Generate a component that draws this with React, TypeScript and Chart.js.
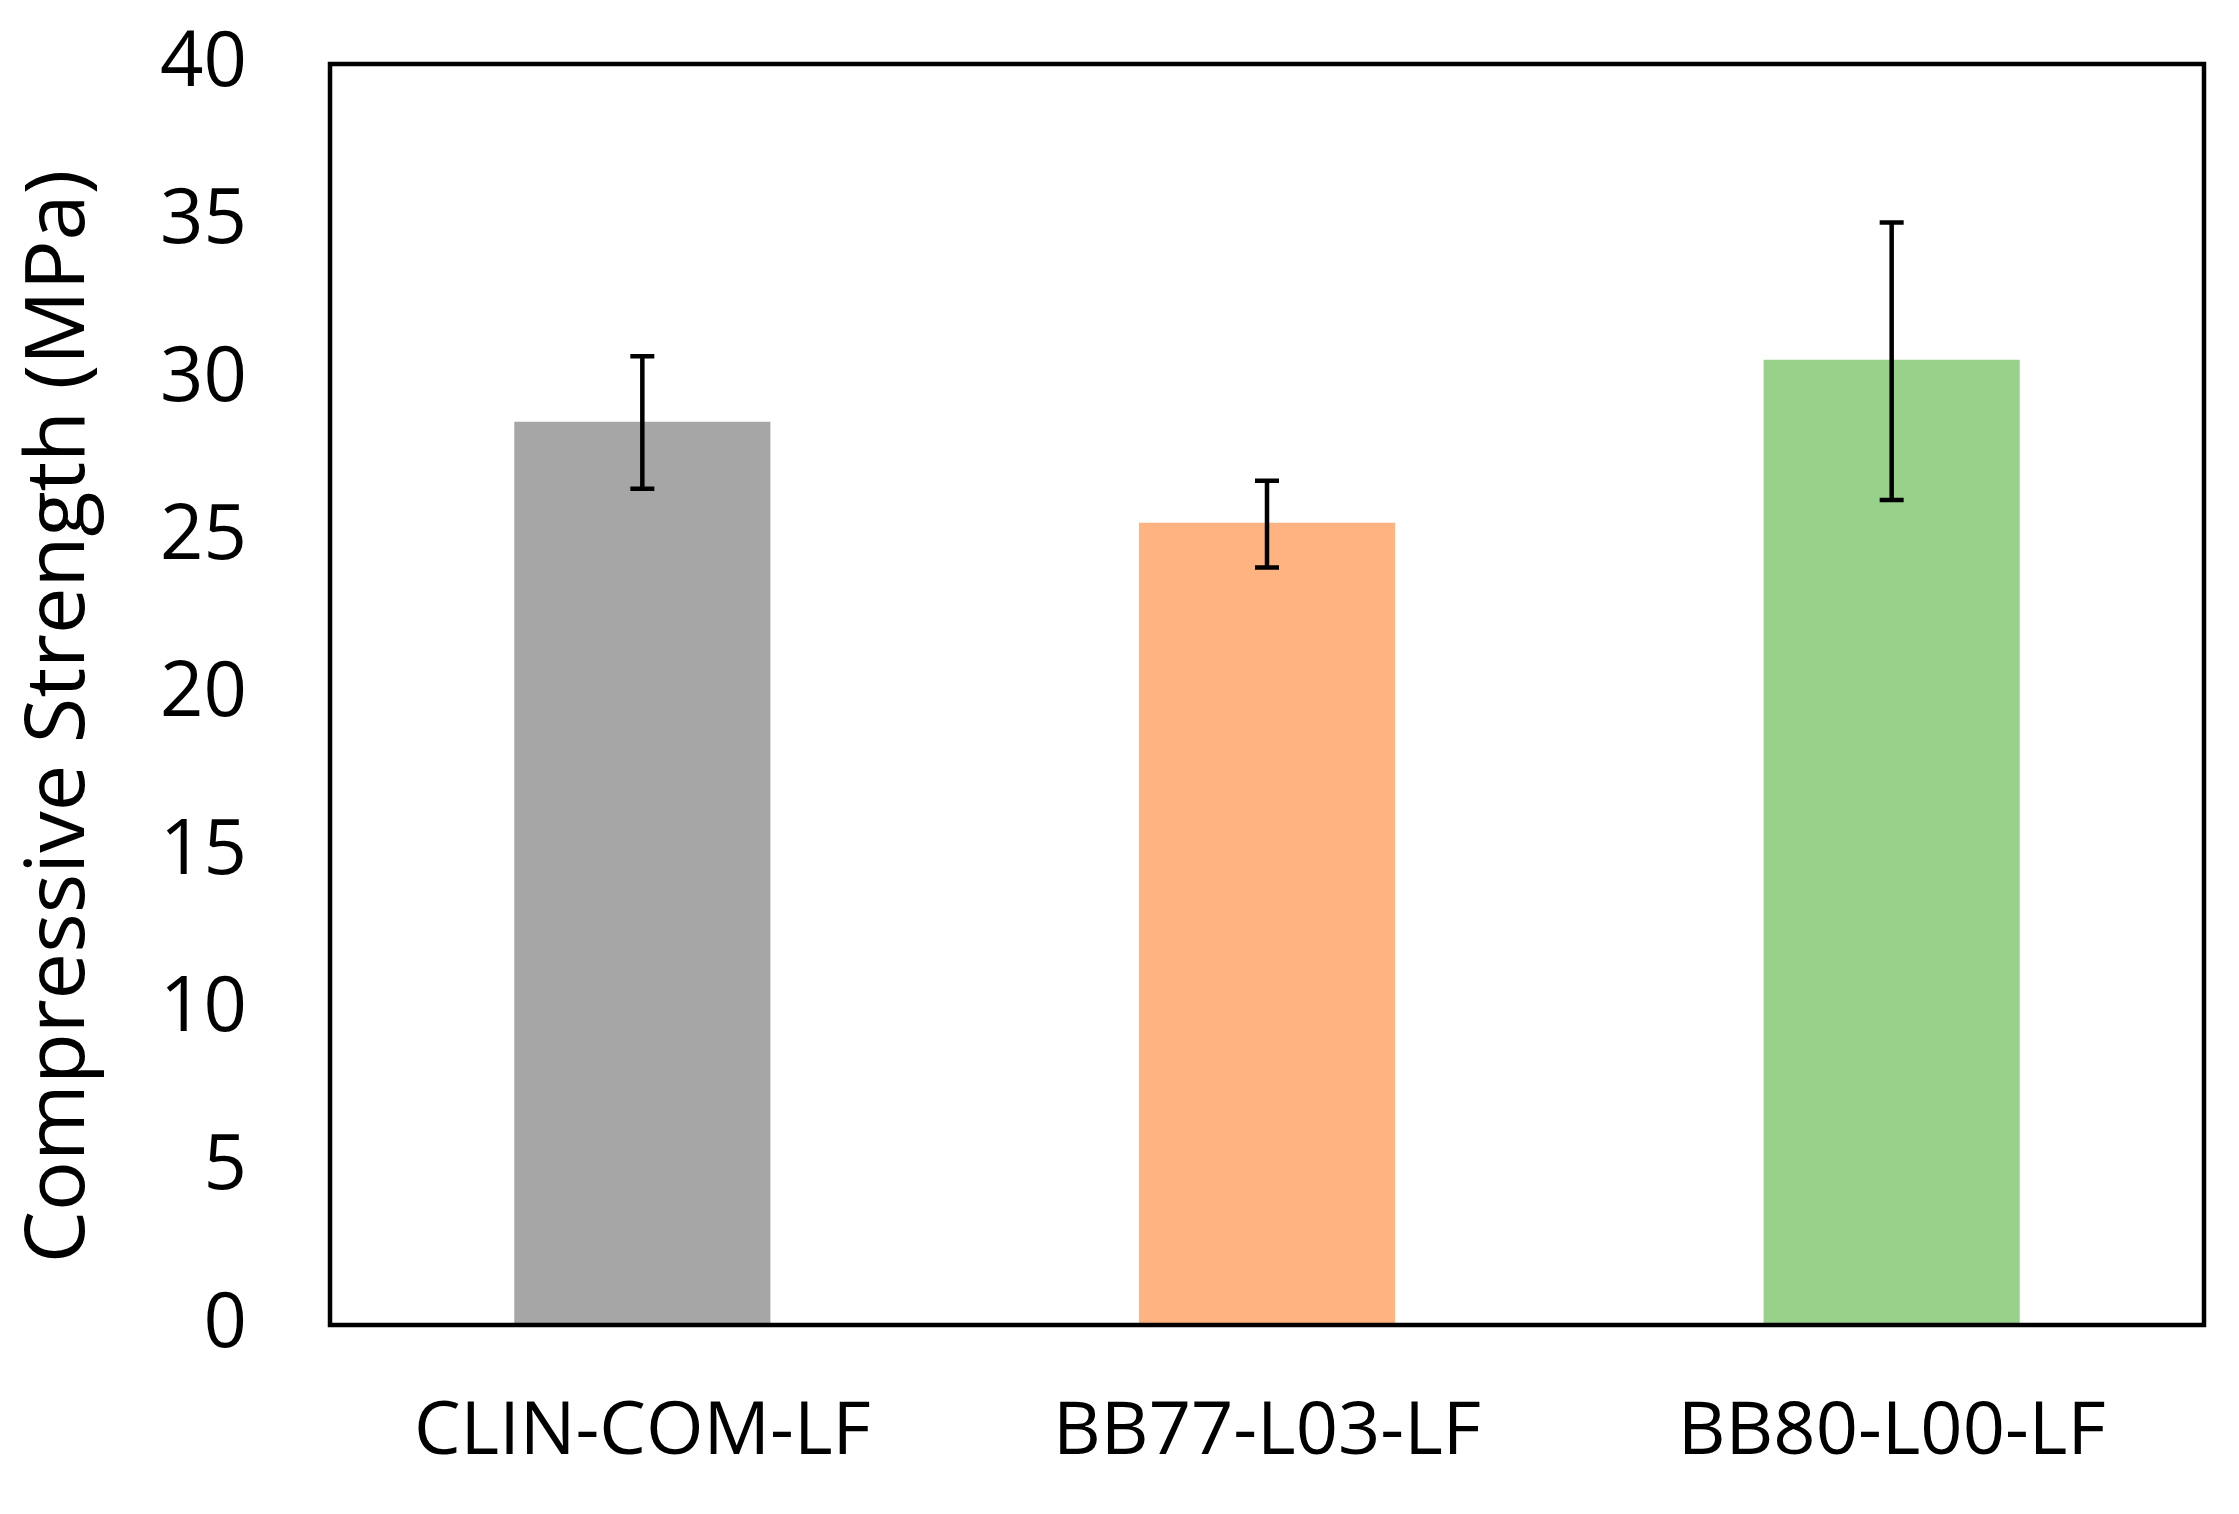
import React, { useEffect, useRef } from "react";
import { Chart, registerables } from "chart.js";

Chart.register(...registerables);

const categories = ["CLIN-COM-LF", "BB77-L03-LF", "BB80-L00-LF"];
const strength = [28.65, 25.45, 30.62];
const errorPlus = [2.08, 1.33, 4.35];
const errorMinus = [2.12, 1.42, 4.45];
const barColors = ["#A6A6A6", "#FFB381", "#98D28A"];
const yTicks = [0, 5, 10, 15, 20, 25, 30, 35, 40];
const yTitle = "Compressive Strength (MPa)";

const W = 2239;
const H = 1514;

const framePlugin = {
  id: "frame",
  afterDraw(chart: any) {
    const { ctx, chartArea } = chart;
    ctx.save();
    ctx.strokeStyle = "#000";
    ctx.lineWidth = 4.5;
    ctx.strokeRect(chartArea.left, chartArea.top, chartArea.right - chartArea.left, chartArea.bottom - chartArea.top);
    ctx.restore();
  },
};

const yTitlePlugin = {
  id: "yTitle",
  afterDraw(chart: any) {
    const { ctx, chartArea } = chart;
    const cy = (chartArea.top + chartArea.bottom) / 2 + 22;
    ctx.save();
    ctx.translate(60, cy);
    ctx.rotate(-Math.PI / 2);
    ctx.fillStyle = "#000";
    ctx.font = "83px 'Open Sans'";
    ctx.textAlign = "center";
    ctx.textBaseline = "middle";
    ctx.fillText(yTitle, 0, 0);
    ctx.restore();
  },
};

const errorBarPlugin = {
  id: "errorBars",
  afterDatasetsDraw(chart: any) {
    const { ctx } = chart;
    const yScale = chart.scales.y;
    const meta = chart.getDatasetMeta(0);
    ctx.save();
    ctx.strokeStyle = "#000";
    ctx.lineWidth = 4.5;
    ctx.lineCap = "butt";
    meta.data.forEach((bar: any, i: number) => {
      const x = bar.x;
      const yHi = yScale.getPixelForValue(strength[i] + errorPlus[i]);
      const yLo = yScale.getPixelForValue(strength[i] - errorMinus[i]);
      const half = 12;
      ctx.beginPath();
      ctx.moveTo(x, yHi);
      ctx.lineTo(x, yLo);
      ctx.moveTo(x - half, yHi);
      ctx.lineTo(x + half, yHi);
      ctx.moveTo(x - half, yLo);
      ctx.lineTo(x + half, yLo);
      ctx.stroke();
    });
    ctx.restore();
  },
};

export default function App() {
  const canvasRef = useRef<HTMLCanvasElement | null>(null);

  useEffect(() => {
    document.body.style.margin = "0";
    const canvas = canvasRef.current;
    if (!canvas) return;
    const chart = new Chart(canvas, {
      type: "bar",
      data: {
        labels: categories,
        datasets: [
          {
            data: strength,
            backgroundColor: barColors,
            borderWidth: 0,
            barPercentage: 0.41,
            categoryPercentage: 1,
          },
        ],
      },
      options: {
        responsive: false,
        maintainAspectRatio: false,
        animation: false,
        devicePixelRatio: 1,
        layout: { padding: { left: 0, top: 64, right: 35, bottom: 0 } },
        plugins: {
          legend: { display: false },
          tooltip: { enabled: false },
          title: { display: false },
        },
        scales: {
          x: {
            grid: { display: false, drawTicks: false },
            border: { display: false },
            ticks: {
              color: "#000",
              padding: 64,
              font: { family: "'Open Sans'", size: 74 },
              maxRotation: 0,
            },
            afterFit(scale: any) {
              scale.height = 1514 - 1325;
              scale.paddingLeft = 0;
              scale.paddingRight = 0;
            },
          },
          y: {
            min: 0,
            max: 40,
            afterBuildTicks(scale: any) {
              scale.ticks = yTicks.map((v) => ({ value: v }));
            },
            grid: { display: false, drawTicks: false },
            border: { display: false },
            ticks: {
              color: "#000",
              padding: 83,
              font: { family: "'Open Sans'", size: 76 },
            },
            title: { display: false },
            afterFit(scale: any) {
              scale.width = 330;
              scale.paddingTop = 0;
              scale.paddingBottom = 0;
            },
          },
        },
      },
      plugins: [framePlugin, errorBarPlugin, yTitlePlugin],
    });
    return () => chart.destroy();
  }, []);

  return (
    <div style={{ width: W, height: H, background: "#fff" }}>
      <canvas ref={canvasRef} width={W} height={H} style={{ display: "block" }} />
    </div>
  );
}
